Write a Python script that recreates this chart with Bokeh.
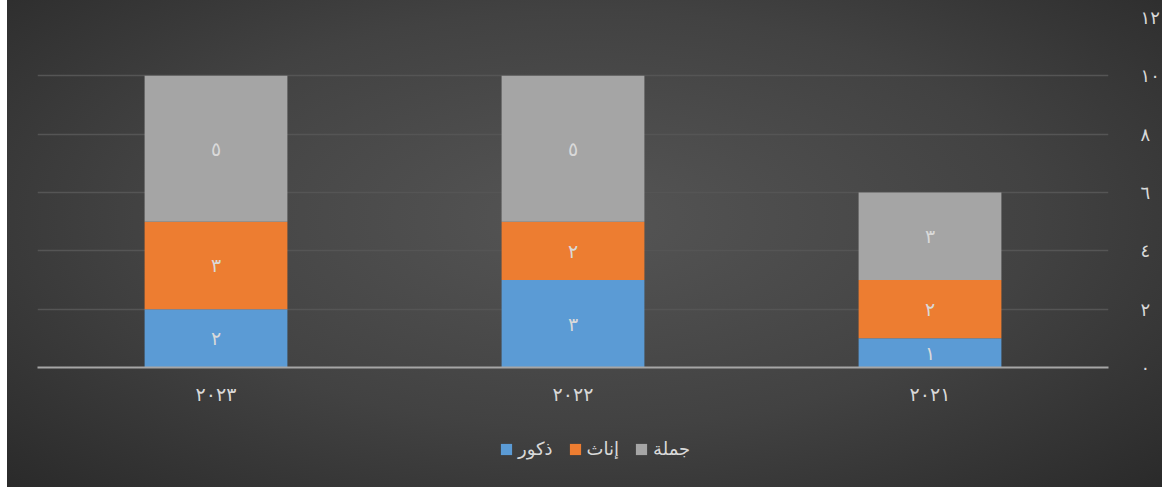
from bokeh.plotting import figure
from bokeh.models import (ColumnDataSource, FactorRange, Range1d, LinearAxis, FixedTicker,
                          Legend, LegendItem)
from bokeh.layouts import column
from bokeh.core.properties import value
from bokeh.embed import file_html
from bokeh.resources import INLINE

years = ["٢٠٢٣", "٢٠٢٢", "٢٠٢١"]
males = [2, 3, 1]
females = [3, 2, 2]
totals = [5, 5, 3]
series_names = ["ذكور", "إناث", "جملة"]
series_colors = ["#5b9bd5", "#ed7d31", "#a5a5a5"]
y_ticks = [0, 2, 4, 6, 8, 10, 12]
y_tick_labels = ["٠", "٢", "٤", "٦", "٨", "١٠", "١٢"]
digits = "٠١٢٣٤٥٦٧٨٩"

def ar(n):
    return "".join(digits[int(c)] for c in str(n))

FONT = "DejaVu Sans"
TXT = "#d9d9d9"
W = 1155

src = ColumnDataSource(dict(year=years, m=males, f=females, t=totals))

p = figure(x_range=FactorRange(*years), y_range=Range1d(0, 12),
           width=W, height=407, output_backend="svg", toolbar_location=None,
           y_axis_location=None, min_border_left=30, min_border_right=50,
           min_border_top=17, min_border_bottom=40)
p.border_fill_alpha = 0
p.background_fill_alpha = 0
p.outline_line_color = None

renderers = p.vbar_stack(["m", "f", "t"], x="year", width=0.4, source=src,
                         color=series_colors, line_color=None)

# value labels at segment midpoints
lx, ly, lt = [], [], []
for i, yr in enumerate(years):
    base = 0
    for v in (males[i], females[i], totals[i]):
        lx.append(yr)
        ly.append(base + v / 2)
        lt.append(ar(v))
        base += v
p.text(x=lx, y=ly, text=lt, text_align="center", text_baseline="middle",
       text_color=TXT, text_font=value(FONT), text_font_size="19px")

# right axis
yax = LinearAxis(ticker=FixedTicker(ticks=y_ticks),
                 major_label_overrides={t: l for t, l in zip(y_ticks, y_tick_labels)})
yax.axis_line_color = None
yax.major_tick_line_color = None
yax.minor_tick_line_color = None
yax.major_label_text_color = TXT
yax.major_label_text_font = FONT
yax.major_label_text_font_size = "18px"
yax.major_label_text_align = "left"
yax.major_label_standoff = 26
p.add_layout(yax, "right")

p.ygrid.ticker = FixedTicker(ticks=y_ticks)
p.ygrid.grid_line_color = "#555555"
p.ygrid.grid_line_width = 1.5
p.xgrid.grid_line_color = None

xax = p.xaxis[0]
xax.axis_line_color = "#a6a6a6"
xax.axis_line_width = 2
xax.major_tick_line_color = None
xax.minor_tick_line_color = None
xax.major_label_text_color = TXT
xax.major_label_text_font = FONT
xax.major_label_text_font_size = "19px"
xax.major_label_standoff = 9

# legend strip below the chart (same series, drawn out of view so only the legend shows)
lf = figure(width=W, height=80, output_backend="svg", toolbar_location=None,
            x_range=FactorRange(*years), y_range=Range1d(100, 101),
            min_border=0, x_axis_location=None, y_axis_location=None)
lf.border_fill_alpha = 0
lf.background_fill_alpha = 0
lf.outline_line_color = None
lf.xgrid.grid_line_color = None
lf.ygrid.grid_line_color = None
lrs = lf.vbar_stack(["m", "f", "t"], x="year", width=0.4, source=src,
                    color=series_colors, line_color=None)

legend = Legend(items=[LegendItem(label=n, renderers=[r]) for n, r in zip(series_names, lrs)],
                orientation="horizontal", location=(462, 28))
legend.background_fill_alpha = 0
legend.border_line_alpha = 0
legend.label_text_color = TXT
legend.label_text_font = FONT
legend.label_text_font_size = "18px"
legend.glyph_width = 14
legend.glyph_height = 14
legend.spacing = 15
legend.label_standoff = 5
legend.padding = 0
legend.margin = 0
lf.add_layout(legend)

layout = column(p, lf, spacing=0)
layout.margin = (0, 0, 0, 7)
layout.styles = {"background-image": "radial-gradient(ellipse at 50% 45%, #555555 0%, #424242 55%, #2a2a2a 100%)"}

open("out.html", "w").write(file_html(layout, INLINE))
